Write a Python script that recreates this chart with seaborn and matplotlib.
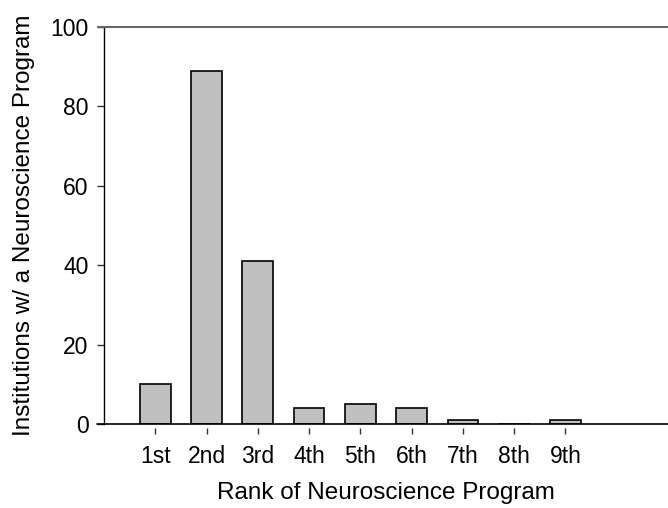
import pandas as pd
import seaborn as sns
import matplotlib.pyplot as plt

# Values
ranks = ["1st", "2nd", "3rd", "4th", "5th", "6th", "7th", "8th", "9th"]
counts = [10, 89, 41, 4, 5, 4, 1, 0, 1]

data = pd.DataFrame({"rank": ranks, "count": counts})

sns.set_style("white")
plt.rcParams['font.family'] = ['Liberation Sans', 'DejaVu Sans']
plt.rcParams['text.color'] = 'black'
plt.rcParams['xtick.color'] = 'black'
plt.rcParams['ytick.color'] = 'black'
plt.rcParams['axes.labelcolor'] = 'black'

fig = plt.figure(figsize=(6.68, 5.08), dpi=100)
ax = fig.add_axes([104 / 668, 84 / 508, 1 - 104 / 668, 397 / 508])

sns.barplot(data=data, x="rank", y="count", color="#c0c0c0", saturation=1,
            edgecolor="black", linewidth=1.2, width=0.6, ax=ax)

ax.set_xlim(-1, 10)
ax.set_ylim(0, 100)
ax.set_yticks([0, 20, 40, 60, 80, 100])

# frame: black left axis, black baseline, grey line along the top
for side in ["top", "right"]:
    ax.spines[side].set_visible(False)
ax.spines["left"].set_color("black")
ax.spines["left"].set_linewidth(1)
ax.spines["bottom"].set_position(("outward", 3))
ax.spines["bottom"].set_color("none")
ax.axhline(0, xmin=-0.012, xmax=1, color="black", lw=1.2, clip_on=False, zorder=5)
ax.axhline(100, xmin=-0.01, xmax=1, color="#666666", lw=1.5, clip_on=False, zorder=5)

ax.tick_params(axis="x", direction="out", length=4, width=1, color="#333333",
               bottom=True, labelsize=16.5, pad=8)
ax.tick_params(axis="y", direction="out", length=5, width=1, color="#333333",
               left=True, labelsize=16.5, pad=6)

ax.set_xlabel("Rank of Neuroscience Program", fontsize=17.5, labelpad=10)
ax.set_ylabel("Institutions w/ a Neuroscience Program", fontsize=17.5, labelpad=11)

fig.savefig("out.png", dpi=100)
